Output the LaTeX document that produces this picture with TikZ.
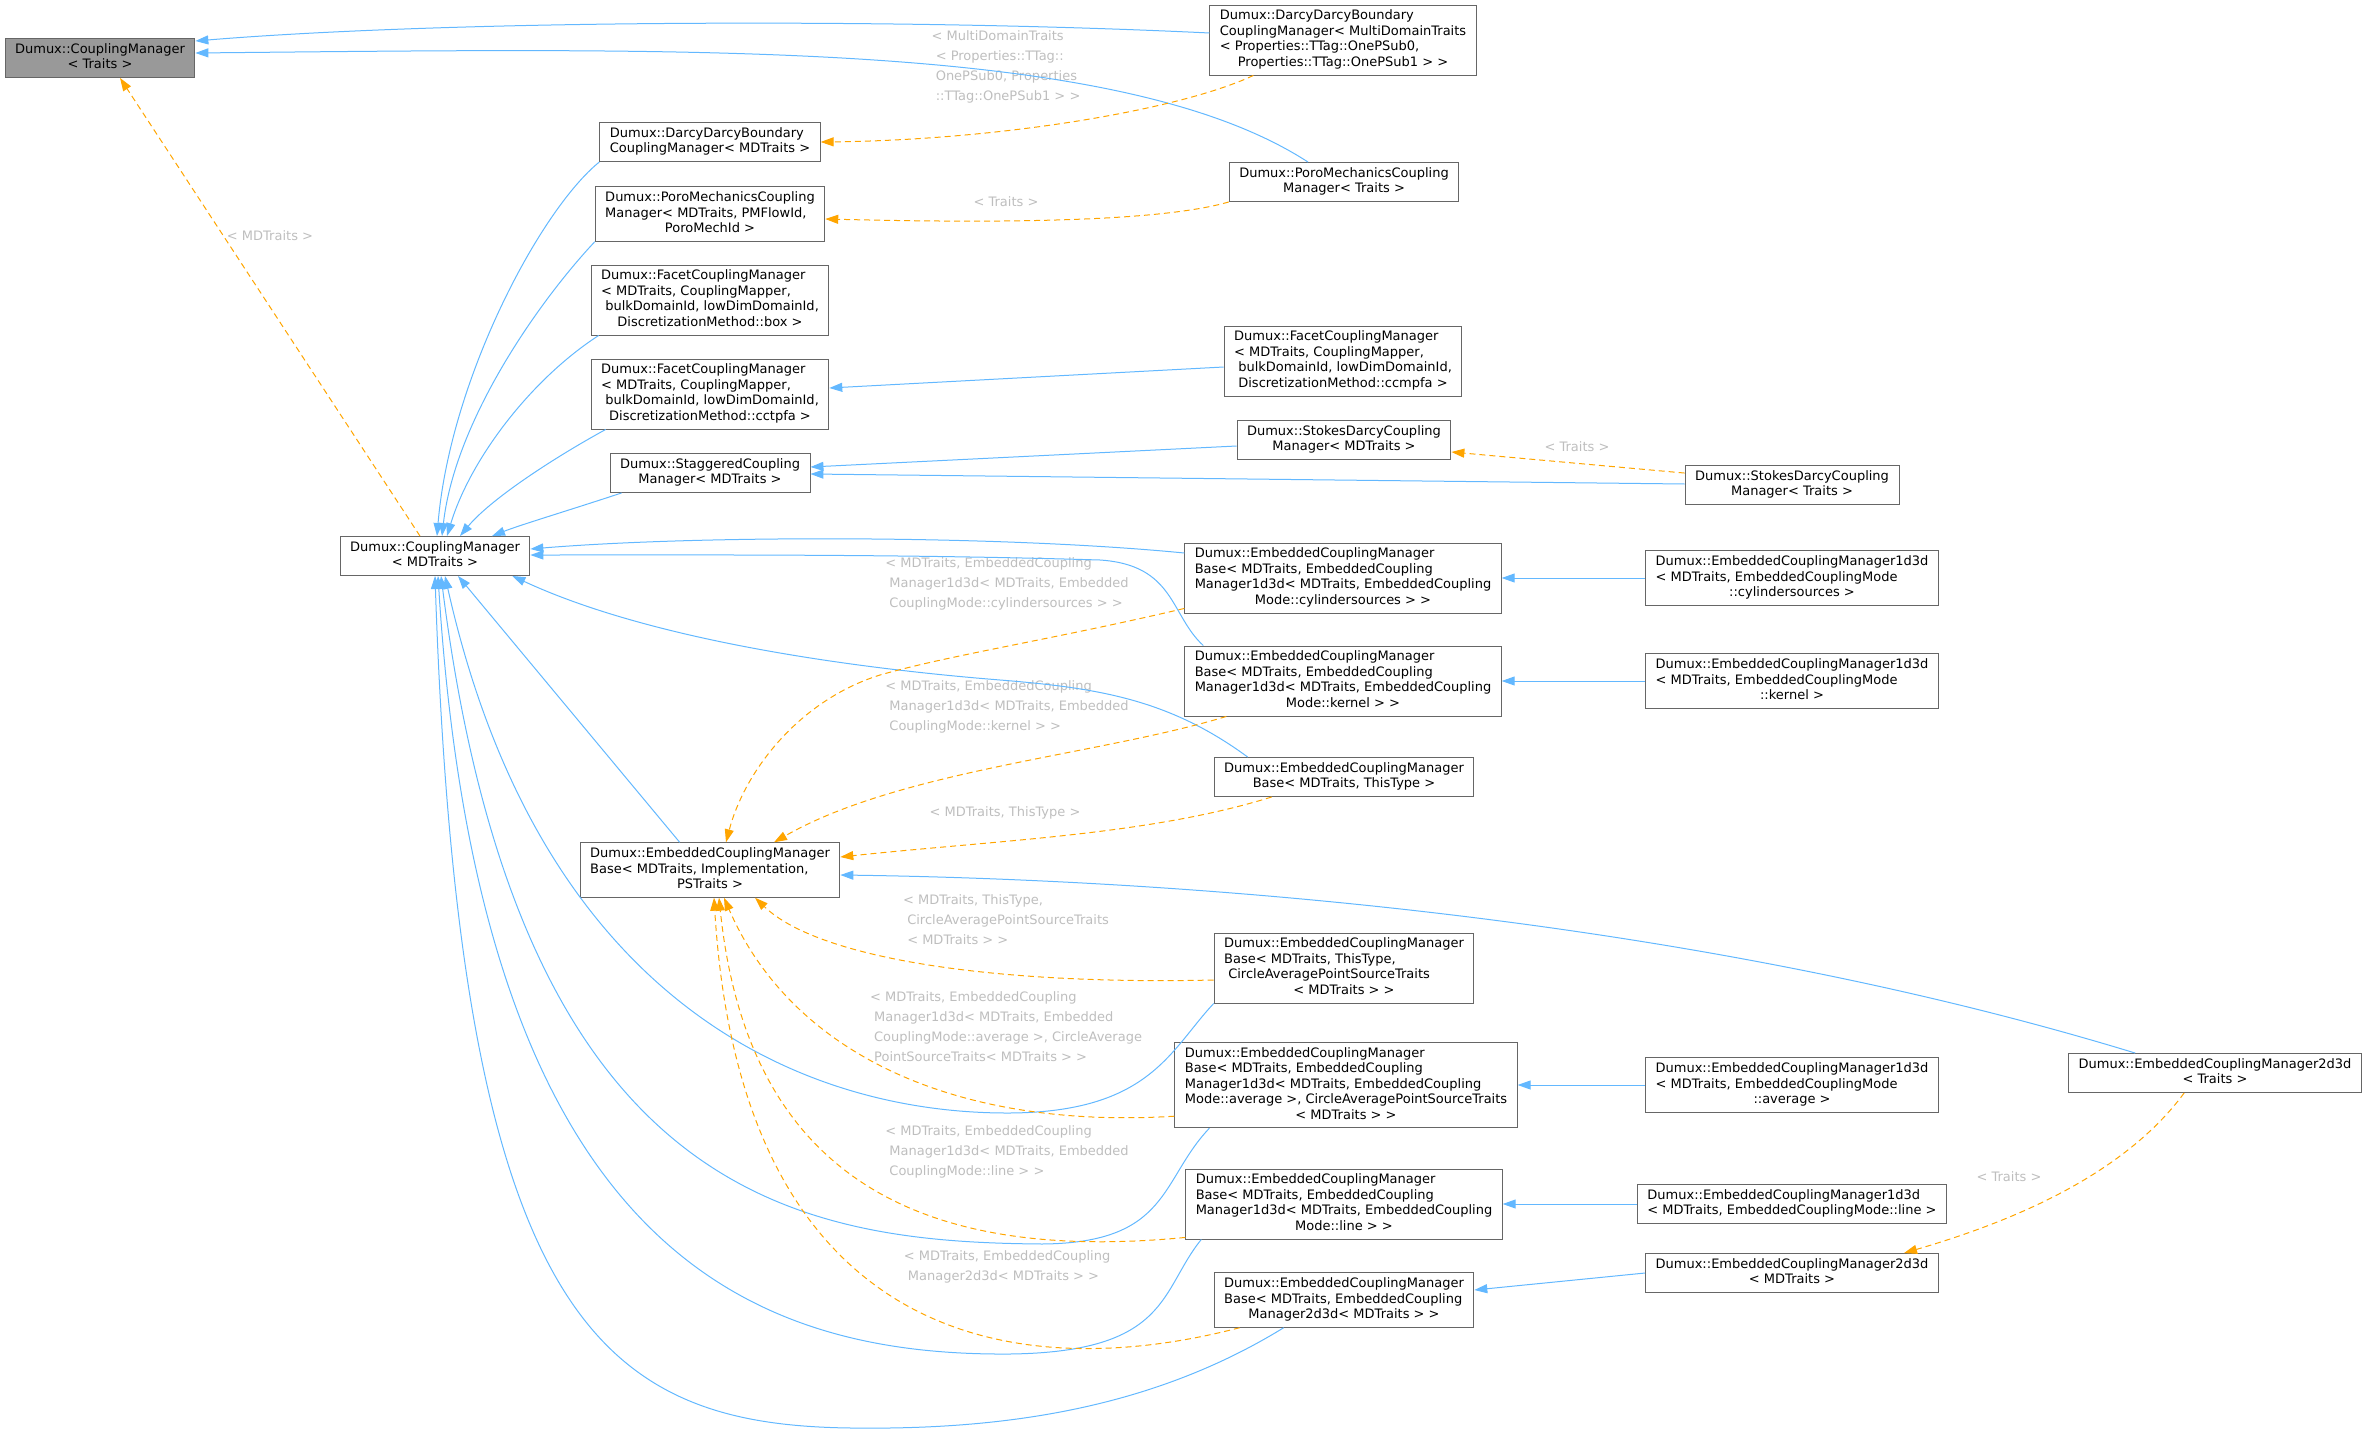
\documentclass[tikz,border=0pt]{standalone}
\usepackage{fontspec}
\setmainfont{DejaVu Sans}
\usetikzlibrary{arrows.meta,positioning,calc}
\definecolor{edgeblue}{HTML}{63B8FF}
\definecolor{edgeorange}{HTML}{FFA500}
\definecolor{boxgray}{HTML}{666666}
\definecolor{rootgray}{HTML}{999999}
\definecolor{labelgray}{HTML}{BEBEBE}
% todas las lineas a la izquierda, la ultima centrada
\newcommand{\klass}[2]{\begin{tabular}{@{}l@{}}#1\\\multicolumn{1}{@{}c@{}}{#2}\end{tabular}}
\tikzset{
    classbox/.style={
        rectangle,                 % caja de clase
        draw=boxgray,              % borde gris oscuro
        line width=0.9pt,
        fill=white,
        inner xsep=10pt,
        inner ysep=4pt,
        font=\fontsize{13}{15.5}\selectfont
    },
    rootbox/.style={
        classbox,
        fill=rootgray              % la clase consultada va rellena
    },
    inherit/.style={
        draw=edgeblue,             % herencia: linea azul continua
        line width=1pt,
        -{Triangle[length=13pt,width=9pt]}
    },
    instance/.style={
        draw=edgeorange,           % instancia de plantilla: naranja discontinua
        line width=1pt,
        dash pattern=on 6pt off 4pt,
        -{Triangle[length=13pt,width=9pt]}
    },
    tmpllabel/.style={
        text=labelgray,            % etiqueta de argumentos, gris claro
        align=left,
        inner sep=0pt,
        font=\fontsize{13}{20}\selectfont
    }
}

\begin{document}
\begin{tikzpicture}[x=1pt,y=-1pt]
    \useasboundingbox (0,0) rectangle (2367,1434);

    % columna izquierda
    \node[rootbox] (cmT) at (100,58) {\klass{Dumux::CouplingManager}{< Traits >}};
    \node[classbox] (cmMD) at (435,556) {\klass{Dumux::CouplingManager}{< MDTraits >}};

    % columna central
    \node[classbox] (ddMD) at (710,142) {\klass{Dumux::DarcyDarcyBoundary}{CouplingManager< MDTraits >}};
    \node[classbox] (pmMD) at (710,214) {\klass{Dumux::PoroMechanicsCoupling\\Manager< MDTraits, PMFlowId,}{PoroMechId >}};
    \node[classbox] (facetBox) at (710,300) {\klass{Dumux::FacetCouplingManager\\< MDTraits, CouplingMapper,\\~bulkDomainId, lowDimDomainId,}{DiscretizationMethod::box >}};
    \node[classbox] (facetTpfa) at (710,394) {\klass{Dumux::FacetCouplingManager\\< MDTraits, CouplingMapper,\\~bulkDomainId, lowDimDomainId,}{DiscretizationMethod::cctpfa >}};
    \node[classbox] (stagMD) at (710,473) {\klass{Dumux::StaggeredCoupling}{Manager< MDTraits >}};
    \node[classbox] (ecmImpl) at (710,870) {\klass{Dumux::EmbeddedCouplingManager\\Base< MDTraits, Implementation,}{PSTraits >}};

    % columna derecha
    \node[classbox] (ddMulti) at (1343,40) {\klass{Dumux::DarcyDarcyBoundary\\CouplingManager< MultiDomainTraits\\< Properties::TTag::OnePSub0,}{Properties::TTag::OnePSub1 > >}};
    \node[classbox] (pmT) at (1344,182) {\klass{Dumux::PoroMechanicsCoupling}{Manager< Traits >}};
    \node[classbox] (facetMpfa) at (1343,361) {\klass{Dumux::FacetCouplingManager\\< MDTraits, CouplingMapper,\\~bulkDomainId, lowDimDomainId,}{DiscretizationMethod::ccmpfa >}};
    \node[classbox] (sdMD) at (1344,440) {\klass{Dumux::StokesDarcyCoupling}{Manager< MDTraits >}};
    \node[classbox] (ecmCyl) at (1343,578) {\klass{Dumux::EmbeddedCouplingManager\\Base< MDTraits, EmbeddedCoupling\\Manager1d3d< MDTraits, EmbeddedCoupling}{Mode::cylindersources > >}};
    \node[classbox] (ecmKernel) at (1343,681) {\klass{Dumux::EmbeddedCouplingManager\\Base< MDTraits, EmbeddedCoupling\\Manager1d3d< MDTraits, EmbeddedCoupling}{Mode::kernel > >}};
    \node[classbox] (ecmThisType) at (1344,777) {\klass{Dumux::EmbeddedCouplingManager}{Base< MDTraits, ThisType >}};
    \node[classbox] (ecmCircle) at (1344,968) {\klass{Dumux::EmbeddedCouplingManager\\Base< MDTraits, ThisType,\\~CircleAveragePointSourceTraits}{< MDTraits > >}};
    \node[classbox] (ecmAvg) at (1346,1085) {\klass{Dumux::EmbeddedCouplingManager\\Base< MDTraits, EmbeddedCoupling\\Manager1d3d< MDTraits, EmbeddedCoupling\\Mode::average >, CircleAveragePointSourceTraits}{< MDTraits > >}};
    \node[classbox] (ecmLine) at (1344,1204) {\klass{Dumux::EmbeddedCouplingManager\\Base< MDTraits, EmbeddedCoupling\\Manager1d3d< MDTraits, EmbeddedCoupling}{Mode::line > >}};
    \node[classbox] (ecm2d3dBase) at (1344,1300) {\klass{Dumux::EmbeddedCouplingManager\\Base< MDTraits, EmbeddedCoupling}{Manager2d3d< MDTraits > >}};

    % hojas
    \node[classbox] (sdT) at (1792,485) {\klass{Dumux::StokesDarcyCoupling}{Manager< Traits >}};
    \node[classbox] (ecm1d3dCyl) at (1792,578) {\klass{Dumux::EmbeddedCouplingManager1d3d\\< MDTraits, EmbeddedCouplingMode}{::cylindersources >}};
    \node[classbox] (ecm1d3dKernel) at (1792,681) {\klass{Dumux::EmbeddedCouplingManager1d3d\\< MDTraits, EmbeddedCouplingMode}{::kernel >}};
    \node[classbox] (ecm1d3dAvg) at (1792,1085) {\klass{Dumux::EmbeddedCouplingManager1d3d\\< MDTraits, EmbeddedCouplingMode}{::average >}};
    \node[classbox] (ecm1d3dLine) at (1792,1204) {\klass{Dumux::EmbeddedCouplingManager1d3d}{< MDTraits, EmbeddedCouplingMode::line >}};
    \node[classbox] (ecm2d3dMD) at (1792,1273) {\klass{Dumux::EmbeddedCouplingManager2d3d}{< MDTraits >}};
    \node[classbox] (ecm2d3dT) at (2215,1073) {\klass{Dumux::EmbeddedCouplingManager2d3d}{< Traits >}};

    % etiquetas de las instancias
    \node[tmpllabel] (lMD) at (270,236) {< MDTraits >};
    \node[tmpllabel] (lMulti) at (1006,67) {< MultiDomainTraits\\~< Properties::TTag::\\~OnePSub0, Properties\\~::TTag::OnePSub1 > >};
    \node[tmpllabel] (lPm) at (1006,202) {< Traits >};
    \node[tmpllabel] (lSd) at (1577,447) {< Traits >};
    \node[tmpllabel] (lCyl) at (1007,584) {< MDTraits, EmbeddedCoupling\\~Manager1d3d< MDTraits, Embedded\\~CouplingMode::cylindersources > >};
    \node[tmpllabel] (lKernel) at (1007,707) {< MDTraits, EmbeddedCoupling\\~Manager1d3d< MDTraits, Embedded\\~CouplingMode::kernel > >};
    \node[tmpllabel] (lThis) at (1005,813) {< MDTraits, ThisType >};
    \node[tmpllabel] (lCircle) at (1006,920) {< MDTraits, ThisType,\\~CircleAveragePointSourceTraits\\~< MDTraits > >};
    \node[tmpllabel] (lAvg) at (1006,1027) {< MDTraits, EmbeddedCoupling\\~Manager1d3d< MDTraits, Embedded\\~CouplingMode::average >, CircleAverage\\~PointSourceTraits< MDTraits > >};
    \node[tmpllabel] (lLine) at (1007,1152) {< MDTraits, EmbeddedCoupling\\~Manager1d3d< MDTraits, Embedded\\~CouplingMode::line > >};
    \node[tmpllabel] (l2d3d) at (1007,1267) {< MDTraits, EmbeddedCoupling\\~Manager2d3d< MDTraits > >};
    \node[tmpllabel] (l2d3dT) at (2009,1177) {< Traits >};

    % herencia hacia CouplingManager< Traits >
    \draw[inherit] ($(ddMulti.west)+(0,-7)$) .. controls (900,18) and (450,20) .. ($(cmT.east)+(0,-17)$);
    \draw[inherit] ($(pmT.north)+(-36,0)$) .. controls (1120,40) and (700,48) .. ($(cmT.east)+(0,-5)$);

    % herencia hacia CouplingManager< MDTraits >, por arriba
    \draw[inherit] (ddMD.south west) .. controls (540,210) and (450,380) .. ($(cmMD.north)+(2,0)$);
    \draw[inherit] (pmMD.south west) .. controls (540,300) and (455,420) .. ($(cmMD.north)+(7,0)$);
    \draw[inherit] ($(facetBox.south west)+(8,0)$) .. controls (530,380) and (470,460) .. ($(cmMD.north)+(12,0)$);
    \draw[inherit] ($(facetTpfa.south west)+(15,0)$) .. controls (550,460) and (490,500) .. ($(cmMD.north)+(25,0)$);
    \draw[inherit] ($(stagMD.south west)+(12,0)$) .. controls (570,510) and (520,525) .. ($(cmMD.north)+(57,0)$);
    \draw[inherit] ($(ecmCyl.west)+(0,-25)$) .. controls (1000,535) and (700,535) .. ($(cmMD.east)+(0,-7)$);
    \draw[inherit] ($(ecmKernel.north west)+(19,0)$) .. controls (1170,615) and (1175,565) .. (1100,560)
        .. controls (900,554) and (700,555) .. ($(cmMD.east)+(0,-1)$);

    % herencia hacia CouplingManager< MDTraits >, por abajo
    \draw[inherit] ($(ecmThisType.north west)+(34,0)$) .. controls (1170,700) and (1100,688) .. (1000,680)
        .. controls (850,668) and (650,640) .. ($(cmMD.south east)+(-18,0)$);
    \draw[inherit] ($(ecmImpl.north west)+(100,0)$) -- ($(cmMD.south)+(23,0)$);
    \draw[inherit] (ecmCircle.south west) .. controls (1170,1050) and (1150,1112) .. (1010,1113)
        .. controls (800,1114) and (540,1000) .. ($(cmMD.south)+(10,0)$);
    \draw[inherit] ($(ecmAvg.south west)+(35,0)$) .. controls (1160,1180) and (1170,1243) .. (1042,1244)
        .. controls (800,1242) and (520,1200) .. ($(cmMD.south)+(6,0)$);
    \draw[inherit] ($(ecmLine.south west)+(16,0)$) .. controls (1160,1290) and (1170,1352) .. (1010,1354)
        .. controls (750,1356) and (480,1250) .. ($(cmMD.south)+(3,0)$);
    \draw[inherit] ($(ecm2d3dBase.south west)+(70,0)$) .. controls (1150,1410) and (1000,1430) .. (851,1428)
        .. controls (600,1425) and (460,1320) .. (cmMD.south);

    % herencia entre las demas clases
    \draw[inherit] ($(facetMpfa.west)+(0,6)$) -- ($(facetTpfa.east)+(0,-6)$);
    \draw[inherit] ($(sdMD.west)+(0,6)$) -- ($(stagMD.east)+(0,-6)$);
    \draw[inherit] ($(sdT.west)+(0,-1)$) -- ($(stagMD.east)+(0,1)$);
    \draw[inherit] (ecm1d3dCyl) -- (ecmCyl);
    \draw[inherit] (ecm1d3dKernel) -- (ecmKernel);
    \draw[inherit] (ecm1d3dAvg) -- (ecmAvg);
    \draw[inherit] (ecm1d3dLine) -- (ecmLine);
    \draw[inherit] (ecm2d3dMD.west) -- ($(ecm2d3dBase.east)+(0,-10)$);
    \draw[inherit] ($(ecm2d3dT.north west)+(67,0)$) .. controls (1700,920) and (1200,880) .. ($(ecmImpl.east)+(0,5)$);

    % instancias de plantilla
    \draw[instance] ($(cmMD.north)+(-15,0)$) -- ($(cmT.south)+(20,0)$);
    \draw[instance] ($(ddMulti.south west)+(44,0)$) .. controls (1180,110) and (1000,140) .. (ddMD.east);
    \draw[instance] (pmT.south west) .. controls (1150,225) and (950,222) .. ($(pmMD.east)+(0,5)$);
    \draw[instance] ($(sdT.north west)+(0,8)$) -- ($(sdMD.east)+(0,12)$);
    \draw[instance] ($(ecmCyl.south west)+(0,-5)$) .. controls (1050,640) and (950,655) .. (880,675)
        .. controls (800,700) and (745,770) .. ($(ecmImpl.north)+(16,0)$);
    \draw[instance] ($(ecmKernel.south west)+(42,0)$) .. controls (1100,755) and (900,770) .. ($(ecmImpl.north)+(64,0)$);
    \draw[instance] ($(ecmThisType.south west)+(58,0)$) .. controls (1150,835) and (1000,840) .. ($(ecmImpl.east)+(0,-13)$);
    \draw[instance] ($(ecmCircle.west)+(0,12)$) .. controls (1000,985) and (820,960) .. ($(ecmImpl.south)+(45,0)$);
    \draw[instance] ($(ecmAvg.south west)+(0,-12)$) .. controls (950,1130) and (790,1050) .. ($(ecmImpl.south)+(14,0)$);
    \draw[instance] ($(ecmLine.south west)+(0,-2)$) .. controls (950,1260) and (750,1200) .. ($(ecmImpl.south)+(9,0)$);
    \draw[instance] ($(ecm2d3dBase.south west)+(26,0)$) .. controls (1000,1390) and (740,1330) .. ($(ecmImpl.south)+(4,0)$);
    \draw[instance] ($(ecm2d3dT.south west)+(116,0)$) .. controls (2120,1180) and (2000,1225) .. ($(ecm2d3dMD.north)+(112,0)$);
\end{tikzpicture}
\end{document}
